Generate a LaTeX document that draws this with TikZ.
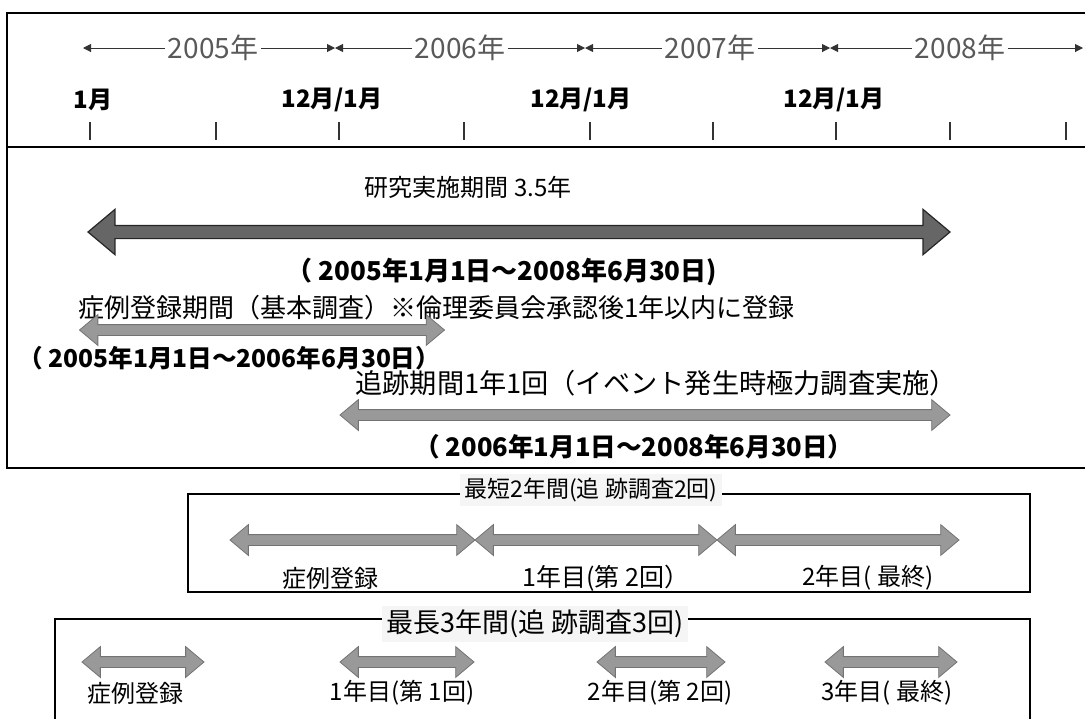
\documentclass[tikz,border=0pt]{standalone}
\usepackage{fontspec}
\setmainfont{Noto Sans CJK JP}
\usetikzlibrary{shapes.arrows,arrows.meta}
\begin{document}
\begin{tikzpicture}[x=0.5pt,y=-0.5pt,
  txt/.style={inner sep=0pt,font=\fontsize{13}{15}\selectfont},
  lab/.style={inner sep=0pt,font=\fontsize{12}{14}\selectfont},
  date/.style={inner sep=0pt,font=\bfseries\fontsize{12.3}{14}\selectfont},
  year/.style={inner sep=1.5pt,text=black!65,font=\fontsize{14}{16}\selectfont},
  month/.style={inner sep=0pt,font=\bfseries\fontsize{12}{14}\selectfont},
  tl/.style={black!80,line width=0.5pt,-{Triangle[length=4pt,width=4pt]}},
  frame/.style={black,line width=0.9pt},
  darr/.style={double arrow,inner xsep=0pt,inner ysep=2.5pt,double arrow head extend=5pt,
    double arrow tip angle=80,fill=black!40,draw=black!55,line width=0.4pt},
  bigarr/.style={double arrow,inner xsep=0pt,inner ysep=3pt,double arrow head extend=8pt,
    double arrow tip angle=80,fill=black!60,draw=black!85,line width=0.6pt},
  boxtitle/.style={inner sep=2pt,fill=black!4}]
\useasboundingbox (0,0) rectangle (1085,719);
% ---------- frame 1
\draw[frame] (1085,13) -- (7,13) -- (7,468) -- (1085,468);
% timeline of years
\coordinate (s0) at (83,48);
\coordinate (s1) at (335,48);
\coordinate (s2) at (585,48);
\coordinate (s3) at (830,48);
\coordinate (s4) at (1083,48);
\node[year] (y5) at (213,48) {2005年};
\node[year] (y6) at (460,48) {2006年};
\node[year] (y7) at (710,48) {2007年};
\node[year] (y8) at (960,48) {2008年};
\draw[tl] (y5.west) -- (s0);
\draw[tl] (y5.east) -- (s1);
\draw[tl] (y6.west) -- (s1);
\draw[tl] (y6.east) -- (s2);
\draw[tl] (y7.west) -- (s2);
\draw[tl] (y7.east) -- (s3);
\draw[tl] (y8.west) -- (s3);
\draw[tl] (y8.east) -- (s4);
% months
\node[month] (m0) at (93,100) {1月};
\node[month] (m1) at (332,100) {12月/1月};
\node[month] (m2) at (581,100) {12月/1月};
\node[month] (m3) at (834,100) {12月/1月};
\foreach \x in {90,216,339,464,590,713,836,950,1066}
  \draw[black!80,line width=0.6pt] (\x,122) -- (\x,140);
\draw[black,line width=1.2pt] (7,147) -- (1085,147);
% study period
\node[txt,font=\fontsize{12}{14}\selectfont] (t1) at (468,187) {研究実施期間 3.5年};
\node[bigarr,minimum height=431pt] (a1) at (519,232) {};
\node[date,font=\bfseries\fontsize{13}{15}\selectfont] (d1) at (502,272) {（ 2005年1月1日～2008年6月30日)};
% registration period
\node[txt,anchor=west] (t2) at (78,308) {症例登録期間（基本調査）※倫理委員会承認後1年以内に登録};
\node[darr,minimum height=182.5pt] (a2) at (262,330) {};
\node[date,anchor=west] (d2) at (18,358) {（ 2005年1月1日～2006年6月30日）};
% follow-up period
\node[txt,anchor=west,font=\fontsize{13.6}{15}\selectfont] (t3) at (355,383) {追跡期間1年1回（イベント発生時極力調査実施）};
\node[darr,minimum height=305pt] (a3) at (645,415) {};
\node[date,font=\bfseries\fontsize{12.8}{14}\selectfont] (d3) at (634,447) {（ 2006年1月1日～2008年6月30日）};
% ---------- frame 2 : shortest
\draw[frame] (188,494) rectangle (1030,592);
\node[boxtitle,font=\fontsize{11.5}{13}\selectfont] (b2t) at (591,490) {最短2年間(追 跡調査2回)};
\node[darr,minimum height=122.5pt] (b2a1) at (352.5,540) {};
\node[darr,minimum height=121pt] (b2a2) at (596,540) {};
\node[darr,minimum height=121pt] (b2a3) at (838,540) {};
\node[lab] (b2l1) at (330,578) {症例登録};
\node[lab,font=\fontsize{12.5}{14}\selectfont] (b2l2) at (606,578) {1年目(第 2回）};
\node[lab] (b2l3) at (868,578) {2年目( 最終)};
% ---------- frame 3 : longest
\draw[frame] (55,719) -- (55,619) -- (1030,619) -- (1030,719);
\node[boxtitle,font=\fontsize{13.5}{15}\selectfont] (b3t) at (535,624) {最長3年間(追 跡調査3回)};
\node[darr,minimum height=61pt] (b3a1) at (143,662) {};
\node[darr,minimum height=67pt] (b3a2) at (407,662) {};
\node[darr,minimum height=64pt] (b3a3) at (661,662) {};
\node[darr,minimum height=66pt] (b3a4) at (891,662) {};
\node[lab] (b3l1) at (135,693) {症例登録};
\node[lab] (b3l2) at (402,693) {1年目(第 1回)};
\node[lab] (b3l3) at (660,693) {2年目(第 2回)};
\node[lab] (b3l4) at (887,693) {3年目( 最終)};
\end{tikzpicture}
\end{document}
